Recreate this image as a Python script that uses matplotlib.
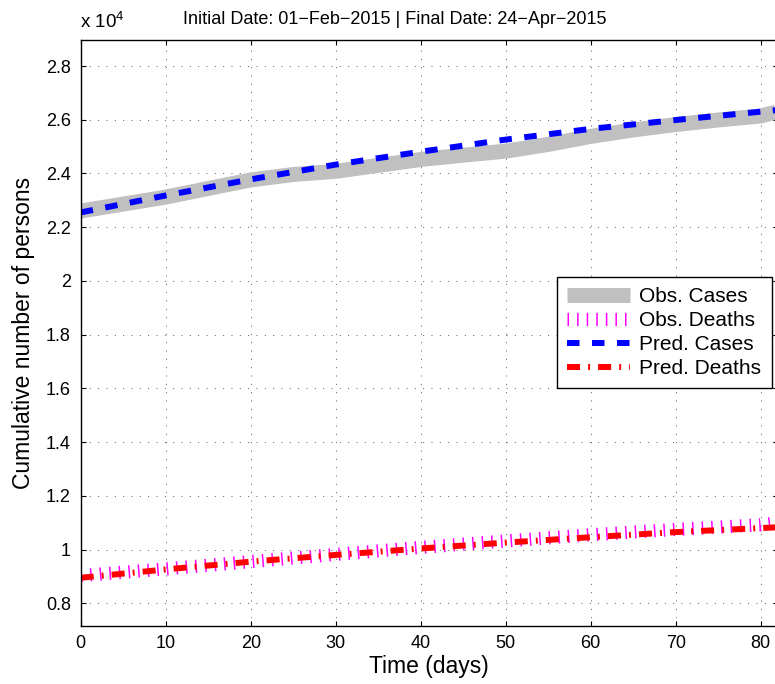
import numpy as np
import matplotlib
matplotlib.use("Agg")
import matplotlib.pyplot as plt
from matplotlib.ticker import FuncFormatter

plt.rcParams['font.family'] = ['Liberation Sans', 'DejaVu Sans']
plt.rcParams['mathtext.fontset'] = 'custom'
plt.rcParams['mathtext.rm'] = 'Liberation Sans'
plt.rcParams['lines.scale_dashes'] = False

obs_days = [0, 5, 10, 15, 20, 25, 30, 35, 40, 45, 50, 55, 60, 65, 70, 75, 80, 82]
obs_cases = [22600, 22860, 23120, 23440, 23760, 23960, 24080, 24300, 24520, 24680,
             24830, 25080, 25380, 25620, 25820, 25990, 26140, 26300]

pred_days = [0, 10, 20, 30, 40, 50, 60, 70, 80, 82]
pred_cases = [22550, 23180, 23780, 24330, 24810, 25260, 25660, 25990, 26300, 26360]
obs_deaths = [9030, 9280, 9550, 9820, 10080, 10320, 10550, 10750, 10920, 11000]
pred_deaths = [8950, 9260, 9550, 9800, 10040, 10260, 10460, 10650, 10800, 10830]

xticks = [0, 10, 20, 30, 40, 50, 60, 70, 80]
yticks = [8000, 10000, 12000, 14000, 16000, 18000, 20000, 22000, 24000, 26000, 28000]

fig = plt.figure(figsize=(7.75, 6.84), dpi=100)
ax = fig.add_axes([80.7 / 775, 58.3 / 684, 697 / 775, 585.7 / 684])

ax.plot(obs_days, obs_cases, color='#c0c0c0', lw=10.8, solid_capstyle='butt',
        label='Obs. Cases')
ax.plot(pred_days, obs_deaths, color='#ff00ff', lw=9.5, ls=(0, (1.1, 5.8)),
        label='Obs. Deaths')
ax.plot(pred_days, pred_cases, color='#0000ff', lw=4.3, ls=(0, (9, 9)),
        label='Pred. Cases')
ax.plot(pred_days, pred_deaths, color='#ff0000', lw=4.3, ls=(0, (9.4, 5.8, 1.4, 5.8)),
        label='Pred. Deaths')

ax.set_xlim(0, 82)
ax.set_ylim(7166, 28968)
ax.set_xticks(xticks)
ax.set_yticks(yticks)
ax.yaxis.set_major_formatter(FuncFormatter(lambda v, p: '%g' % (v / 1e4)))
ax.tick_params(direction='in', length=3.6, width=0.8, top=True, right=True,
               labelsize=13, pad=7)
for s in ax.spines.values():
    s.set_linewidth(1.0)
ax.grid(True, color='0.25', lw=0.6, ls=(0, (0.7, 5.3)))

ax.set_xlabel('Time (days)', fontsize=16.5, labelpad=2)
ax.set_ylabel('Cumulative number of persons', fontsize=16.5, labelpad=8)

fig.text(80 / 775, 1 - 28 / 684, r'x 10$^{4}$', fontsize=13.5, ha='left', va='baseline')
fig.text(395 / 775, 1 - 24 / 684,
         'Initial Date: 01\u2212Feb\u22122015 | Final Date: 24\u2212Apr\u22122015',
         fontsize=13, ha='center', va='baseline')

leg = ax.legend(loc='upper left', bbox_to_anchor=(557 / 775, 1 - 277 / 684),
                bbox_transform=fig.transFigure, borderaxespad=0, fontsize=15,
                handlelength=3.0, handletextpad=0.45, labelspacing=0.23,
                borderpad=0.5, fancybox=False, framealpha=1)
leg.get_frame().set_edgecolor('black')
leg.get_frame().set_linewidth(1.0)

fig.savefig('out.png', dpi=100)
